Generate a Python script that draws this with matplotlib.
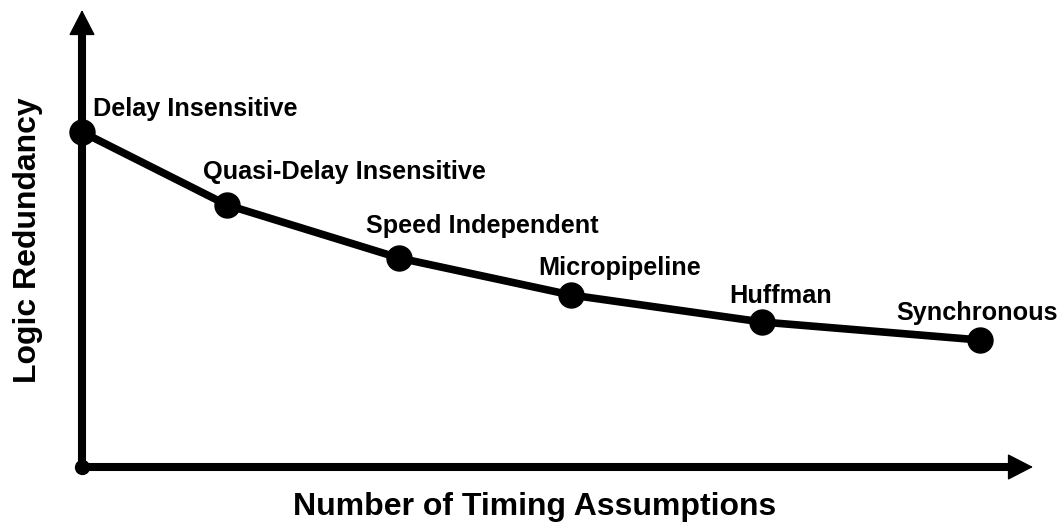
import matplotlib
matplotlib.use("Agg")
import matplotlib.pyplot as plt

# timing styles, ordered by number of timing assumptions
styles = ['Delay Insensitive', 'Quasi-Delay Insensitive', 'Speed Independent',
          'Micropipeline', 'Huffman', 'Synchronous']
assumptions = [0.0, 1.45, 3.17, 4.89, 6.80, 8.98]
redundancy = [3.35, 2.62, 2.09, 1.72, 1.45, 1.27]

# label offsets in pixels (dx, dy) relative to each point
label_dx = [11, -24, -33, -33, -33, -84]
label_dy = [23, 33, 32, 27, 26, 27]

# axis arrow tips
x_tip = 9.51
y_tip = 4.57

plt.rcParams['font.family'] = ['Liberation Sans', 'DejaVu Sans']

fig = plt.figure(figsize=(10.59, 5.27), dpi=100)
ax = fig.add_axes([0, 0, 1, 1])
ax.set_xlim(-0.82, 9.77)
ax.set_ylim(-0.60, 4.67)
ax.axis('off')

# axes: thick lines plus filled arrow heads
ax.plot([0, 0], [0, y_tip - 0.15], color='black', lw=5.8, solid_capstyle='butt')
ax.plot([0, x_tip - 0.15], [0, 0], color='black', lw=5.8, solid_capstyle='butt')
head = dict(arrowstyle='-|>,head_length=16.5,head_width=8.5', mutation_scale=1,
            lw=1, color='black', shrinkA=0, shrinkB=0)
ax.annotate('', xy=(0, y_tip), xytext=(0, y_tip - 0.3), arrowprops=head)
ax.annotate('', xy=(x_tip, 0), xytext=(x_tip - 0.3, 0), arrowprops=head)
ax.plot([0], [0], 'o', color='black', markersize=10, zorder=3)

ax.plot(assumptions, redundancy, '-', color='black', lw=5.5, zorder=4)
ax.plot(assumptions, redundancy, 'o', color='black', markersize=18, zorder=5)

for name, x, y, dx, dy in zip(styles, assumptions, redundancy, label_dx, label_dy):
    ax.annotate(name, xy=(x, y), xytext=(dx, dy), textcoords='offset pixels',
                ha='left', va='center', fontsize=18.2, fontweight='bold')

ax.text(4.53, -0.40, 'Number of Timing Assumptions', ha='center', va='center',
        fontsize=23, fontweight='bold')
ax.text(-0.54, 2.27, 'Logic Redundancy', ha='center', va='center',
        rotation=90, fontsize=23, fontweight='bold')

plt.savefig("out.png", dpi=100)
plt.close()
